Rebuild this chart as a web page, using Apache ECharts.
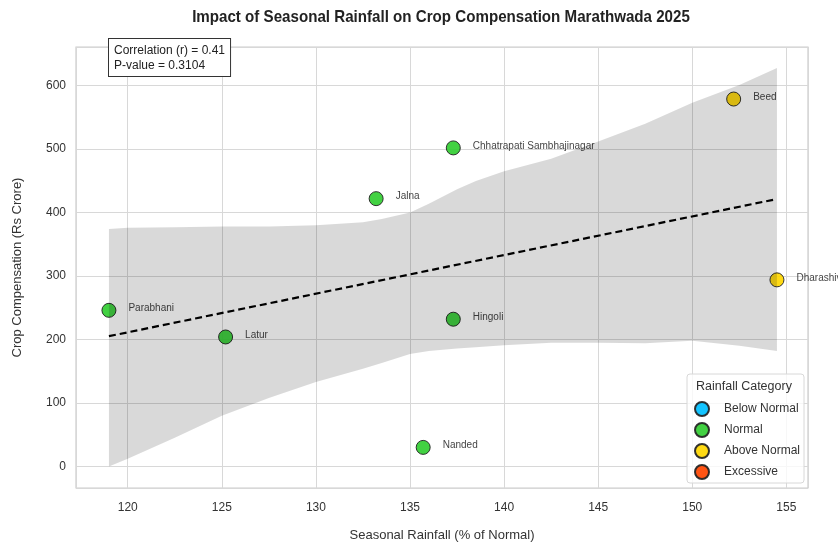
<!DOCTYPE html>
<html>
<head>
<meta charset="utf-8">
<script src="https://cdn.jsdelivr.net/npm/echarts@6/dist/echarts.min.js"></script>
<style>
  html, body { margin: 0; padding: 0; background: #fff; }
  #chart { width: 838px; height: 547px; }
</style>
</head>
<body>
<div id="chart"></div>
<script>
// districts
const districts = ['Parabhani', 'Latur', 'Jalna', 'Chhatrapati Sambhajinagar', 'Hingoli', 'Nanded', 'Beed', 'Dharashiv'];
const rainfall = [119.0, 125.2, 133.2, 137.3, 137.3, 135.7, 152.2, 154.5];
const compensation = [246, 204, 422, 502, 232, 30, 579, 294];
const category = ['Normal', 'Normal', 'Normal', 'Normal', 'Normal', 'Normal', 'Above Normal', 'Above Normal'];

const categories = ['Below Normal', 'Normal', 'Above Normal', 'Excessive'];
const catColors = {
    'Below Normal': '#00BFFF',
    'Normal': '#32CD32',
    'Above Normal': '#FFD700',
    'Excessive': '#FF4500'
};

// 95% confidence band (bootstrapped in original)
const bandX = [119, 120, 122.5, 125, 127.5, 130, 132.5, 133.5, 135, 136, 137.5, 138.5, 140, 142.5, 145, 147.5, 150, 152.5, 154.5];
const bandLow = [0, 12, 45, 80, 108, 133, 154, 163, 177, 182, 186, 188, 191, 195, 195, 194, 198, 190, 182];
const bandHigh = [374, 376, 377, 378, 378, 380, 385, 390, 400, 414, 437, 450, 465, 485, 512, 540, 573, 601, 628];

const statsText = 'Correlation (r) = 0.41\nP-value = 0.3104';

// least squares fit from the data
const n = rainfall.length;
const mx = rainfall.reduce((a, b) => a + b, 0) / n;
const my = compensation.reduce((a, b) => a + b, 0) / n;
let sxy = 0, sxx = 0;
for (let i = 0; i < n; i++) {
    sxy += (rainfall[i] - mx) * (compensation[i] - my);
    sxx += (rainfall[i] - mx) * (rainfall[i] - mx);
}
const slope = sxy / sxx;
const x0 = Math.min(...rainfall), x1 = Math.max(...rainfall);
const fitLine = [[x0, my + slope * (x0 - mx)], [x1, my + slope * (x1 - mx)]];

const font = 'Liberation Sans, Arial, sans-serif';

const chart = echarts.init(document.getElementById('chart'));

const scatterSeries = categories.map(c => ({
    name: c,
    type: 'scatter',
    z: 2,
    symbolSize: 14,
    itemStyle: {
        color: catColors[c],
        borderColor: '#222',
        borderWidth: 1,
        opacity: 0.92
    },
    label: {
        show: true,
        position: 'right',
        distance: 12,
        offset: [0, -2],
        formatter: '{b}',
        fontSize: 10,
        fontFamily: font,
        color: '#333'
    },
    emphasis: { disabled: true },
    data: districts
        .map((d, i) => ({ name: d, value: [rainfall[i], compensation[i]], cat: category[i] }))
        .filter(p => p.cat === c)
        .map(p => ({ name: p.name, value: p.value }))
}));

// band polygon: upper edge left->right, lower edge right->left
const bandRender = (params, api) => {
    if (params.dataIndex !== 0) return;
    const pts = [];
    for (let i = 0; i < bandX.length; i++) pts.push(api.coord([bandX[i], bandHigh[i]]));
    for (let i = bandX.length - 1; i >= 0; i--) pts.push(api.coord([bandX[i], bandLow[i]]));
    return {
        type: 'polygon',
        shape: { points: pts },
        style: { fill: 'rgba(0,0,0,0.15)' }
    };
};

const option = {
    animation: false,
    backgroundColor: '#fff',
    grid: {
        left: 76, right: 30, top: 47, bottom: 57,
        show: true,
        borderColor: '#cccccc',
        borderWidth: 1.2
    },
    xAxis: {
        type: 'value',
        min: 117.25,
        max: 156.15,
        splitNumber: 8,
        name: 'Seasonal Rainfall (% of Normal)',
        nameLocation: 'middle',
        nameGap: 41,
        nameTextStyle: { fontSize: 13, fontFamily: font, color: '#333' },
        axisLine: { show: false },
        axisTick: { show: false },
        axisLabel: { showMinLabel: false, showMaxLabel: false, fontSize: 12, fontFamily: font, color: '#333', margin: 14 },
        splitLine: { show: true, lineStyle: { color: '#d8d8d8', width: 1 } }
    },
    yAxis: {
        type: 'value',
        min: -34,
        max: 661,
        splitNumber: 7,
        name: 'Crop Compensation (Rs Crore)',
        nameLocation: 'middle',
        nameGap: 52,
        nameTextStyle: { fontSize: 13, fontFamily: font, color: '#333' },
        axisLine: { show: false },
        axisTick: { show: false },
        axisLabel: { showMinLabel: false, showMaxLabel: false, fontSize: 12, fontFamily: font, color: '#333', margin: 10 },
        splitLine: { show: true, lineStyle: { color: '#d8d8d8', width: 1 } }
    },
    legend: {
        orient: 'vertical',
        left: 694,
        top: 401,
        padding: 0,
        itemWidth: 14,
        itemHeight: 14,
        itemGap: 5,
        icon: 'circle',
        data: categories,
        textStyle: { fontSize: 12, fontFamily: font, color: '#333', padding: [0, 0, 0, 10] },
        z: 6
    },
    graphic: [
        {
            type: 'text',
            x: 441, y: 17,
            scaleX: 0.89,
            style: {
                text: 'Impact of Seasonal Rainfall on Crop Compensation Marathwada 2025',
                font: 'bold 17px "Liberation Sans", Arial, sans-serif',
                fill: '#222',
                textAlign: 'center',
                textVerticalAlign: 'middle'
            }
        },
        {
            type: 'text',
            left: 108, top: 38,
            z: 10,
            style: {
                text: statsText,
                fontSize: 12,
                fontFamily: font,
                fill: '#222',
                lineHeight: 15,
                backgroundColor: '#fff',
                borderColor: '#333',
                borderWidth: 1,
                padding: [4, 5, 3, 5]
            }
        },
        {
            type: 'rect',
            z: 5,
            shape: { x: 687, y: 374, width: 117, height: 109, r: 3 },
            style: { fill: 'rgba(255,255,255,0.8)', stroke: '#d8d8d8', lineWidth: 1 }
        },
        {
            type: 'text',
            x: 696, y: 387,
            z: 6,
            style: {
                text: 'Rainfall Category',
                fontSize: 12.5,
                fontFamily: font,
                fill: '#333',
                textVerticalAlign: 'middle'
            }
        }
    ],
    series: [
        ...scatterSeries,
        {
            name: 'ci',
            type: 'custom',
            z: 3,
            silent: true,
            renderItem: bandRender,
            data: [[bandX[0], bandLow[0]]]
        },
        {
            name: 'fit',
            type: 'line',
            z: 4,
            showSymbol: false,
            symbol: 'none',
            silent: true,
            lineStyle: { color: '#000', width: 2.2, type: [7, 4] },
            data: fitLine
        }
    ]
};

chart.setOption(option);
</script>
</body>
</html>
